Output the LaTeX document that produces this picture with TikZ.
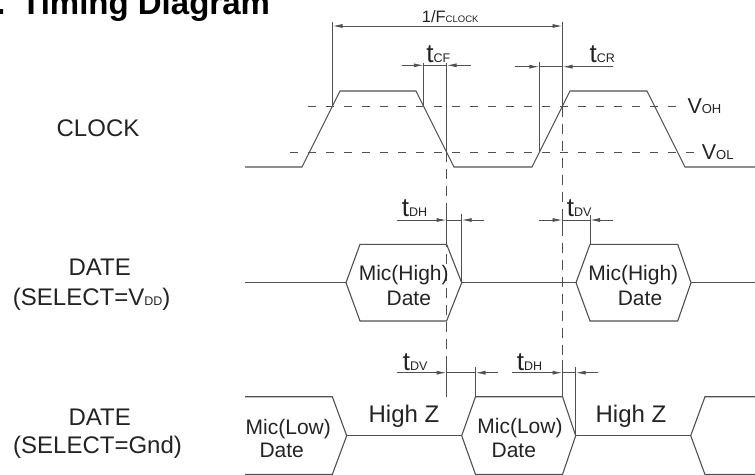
\documentclass[tikz,border=0pt]{standalone}
\usepackage{fontspec}
\setmainfont{Liberation Sans}
\usetikzlibrary{arrows.meta}
\definecolor{lc}{RGB}{80,80,80}
\definecolor{tc}{RGB}{35,35,35}
\newcommand\fsz[1]{\fontsize{#1}{#1}\selectfont}
\newcommand\mytl[1]{{\fsz{26}t}{\fsz{12.5}#1}}
\begin{document}
\begin{tikzpicture}[x=1pt,y=-1pt,
  wave/.style={draw=lc,line width=1.1pt},
  dimline/.style={draw=lc,line width=0.9pt},
  hguide/.style={draw=lc,line width=0.9pt,dash pattern=on 8pt off 10pt},
  vguide/.style={draw=lc,line width=0.9pt,dash pattern=on 10pt off 7pt},
  tip/.style={dimline,-{Latex[length=10pt,width=4pt]}},
  both/.style={dimline,{Latex[length=10pt,width=4pt]}-{Latex[length=10pt,width=4pt]}},
  lbl/.style={text=tc,inner sep=0pt,anchor=base,font=\fsz{24}},
  wlbl/.style={text=tc,inner sep=0pt,anchor=base,font=\fsz{21}},
  zlbl/.style={text=tc,inner sep=0pt,anchor=base,font=\fsz{24}},
  dlbl/.style={text=tc,inner sep=0pt,anchor=base west}]
\useasboundingbox (0,0) rectangle (755,474);
\clip (0,0) rectangle (755,474);

% title (cut off at the top and left, as in the reference)
\node[inner sep=0pt,anchor=base west,font=\fsz{33}\bfseries] (title) at (-3.9,14) {.\hspace{15.7pt}Timing Diagram};

% left labels
\node[lbl] (lclk) at (98,136) {CLOCK};
\node[lbl] (ld1) at (99.7,275) {DATE};
\node[lbl,anchor=base west] (ls1) at (12.7,305) {(SELECT=V{\fsz{12.5}DD})};
\node[lbl] (ld2) at (99.7,425) {DATE};
\node[lbl,anchor=base west] (ls2) at (13,453.5) {(SELECT=Gnd)};

% ---------- CLOCK ----------
\draw[wave] (245,167) -- (302,167) -- (340,91) -- (416,91) -- (454,167)
  -- (532,167) -- (570,91) -- (647,91) -- (685,167) -- (755,167);
\draw[hguide] (308,106.7) -- (678,106.7);
\draw[hguide] (290,152.3) -- (697,152.3);
\node[dlbl] (voh) at (687.3,113.3) {{\fsz{21.5}V}{\fsz{13}OH}};
\node[dlbl] (vol) at (701.7,159) {{\fsz{21.5}V}{\fsz{13}OL}};

% 1/Fclock
\coordinate (pA) at (332.5,26);
\coordinate (pB) at (562.5,26);
\draw[dimline] (332.5,22) -- (332.5,106.7);
\draw[dimline] (562.5,22) -- (562.5,106.7);
\draw[both] (pA) -- (pB);
\node[dlbl] (fclk) at (421.7,22) {{\fsz{16.5}1/F}{\fsz{9.5}CLOCK}};

% tCF
\draw[dimline] (423.8,63) -- (423.8,106.7);
\draw[dimline] (446.6,63) -- (446.6,152.3);
\draw[tip] (401.7,65.3) -- (423.8,65.3);
\draw[tip] (470.7,65.3) -- (446.6,65.3);
\draw[dimline] (423.8,65.3) -- (446.6,65.3);
\node[dlbl] (tcf) at (426.2,62) {\mytl{CF}};

% tCR
\draw[dimline] (539.3,61.7) -- (539.3,152.3);
\draw[tip] (515,66.7) -- (539.3,66.7);
\draw[tip] (613,66.7) -- (562.5,66.7);
\draw[dimline] (539.3,66.7) -- (562.5,66.7);
\node[dlbl] (tcr) at (589.5,62.5) {\mytl{CR}};

% guide lines down the page
\draw[vguide] (446.6,152.3) -- (446.6,397);
\draw[vguide] (562.5,106.7) -- (562.5,396.7);
\draw[dimline] (446.6,212) -- (446.6,244.3);
\draw[dimline] (562.5,212) -- (562.5,228);
\draw[dimline] (446.6,360) -- (446.6,397);
\draw[dimline] (562.5,360) -- (562.5,396.7);

% ---------- DATE (SELECT=VDD) ----------
\draw[wave] (245,282.7) -- (346,282.7);
\draw[wave] (346,282.7) -- (360,244.3) -- (446.6,244.3) -- (461.7,282.7) -- (446.6,321) -- (360,321) -- cycle;
\draw[wave] (461.7,282.7) -- (576,282.7);
\draw[wave] (576,282.7) -- (590,244.3) -- (677.7,244.3) -- (691,282.7) -- (677.7,321) -- (590,321) -- cycle;
\draw[wave] (691,282.7) -- (755,282.7);
\node[wlbl] (mh1a) at (403.7,280) {Mic(High)};
\node[wlbl] (mh1b) at (408.8,305) {Date};
\node[wlbl] (mh2a) at (633.3,280) {Mic(High)};
\node[wlbl] (mh2b) at (640,305) {Date};

% tDH (top)
\draw[dimline] (461.7,214) -- (461.7,282.7);
\draw[tip] (396.7,220) -- (446.6,220);
\draw[tip] (484,220) -- (461.7,220);
\draw[dimline] (446.6,220) -- (461.7,220);
\node[dlbl] (tdh1) at (401.7,216) {\mytl{DH}};

% tDV (top)
\draw[dimline] (590,215) -- (590,244.3);
\draw[tip] (539,220) -- (562.5,220);
\draw[tip] (613,220) -- (590,220);
\draw[dimline] (562.5,220) -- (590,220);
\node[dlbl] (tdv1) at (566.7,216) {\mytl{DV}};

% ---------- DATE (SELECT=Gnd) ----------
\draw[wave] (245,396.7) -- (332.3,396.7) -- (346.7,435.7) -- (332.3,474.5) -- (245,474.5);
\draw[wave] (346.7,435.7) -- (461.7,435.7);
\draw[wave] (461.7,435.7) -- (475.5,396.7) -- (562.5,396.7) -- (575.7,435.7) -- (562.5,474.5) -- (475.5,474.5) -- cycle;
\draw[wave] (575.7,435.7) -- (690.7,435.7);
\draw[wave] (760,396.7) -- (705,396.7) -- (690.7,435.7) -- (705,474.5) -- (760,474.5);
\node[wlbl] (ml1a) at (288.3,434) {Mic(Low)};
\node[wlbl] (ml1b) at (281.7,457.3) {Date};
\node[wlbl] (ml2a) at (520,433.5) {Mic(Low)};
\node[wlbl] (ml2b) at (513.8,457.3) {Date};
\node[zlbl] (hz1) at (404,422.3) {High Z};
\node[zlbl] (hz2) at (631,422.3) {High Z};

% tDV (bottom)
\draw[dimline] (475.5,367) -- (475.5,396.7);
\draw[tip] (396.7,372.7) -- (446.6,372.7);
\draw[tip] (498.3,372.7) -- (475.5,372.7);
\draw[dimline] (446.6,372.7) -- (475.5,372.7);
\node[dlbl] (tdv2) at (402.7,370.5) {\mytl{DV}};

% tDH (bottom)
\draw[dimline] (575.7,367) -- (575.7,435.7);
\draw[tip] (512.3,372.7) -- (562.5,372.7);
\draw[tip] (598.3,372.7) -- (575.7,372.7);
\draw[dimline] (562.5,372.7) -- (575.7,372.7);
\node[dlbl] (tdh2) at (516.7,370.5) {\mytl{DH}};
\end{tikzpicture}
\end{document}
